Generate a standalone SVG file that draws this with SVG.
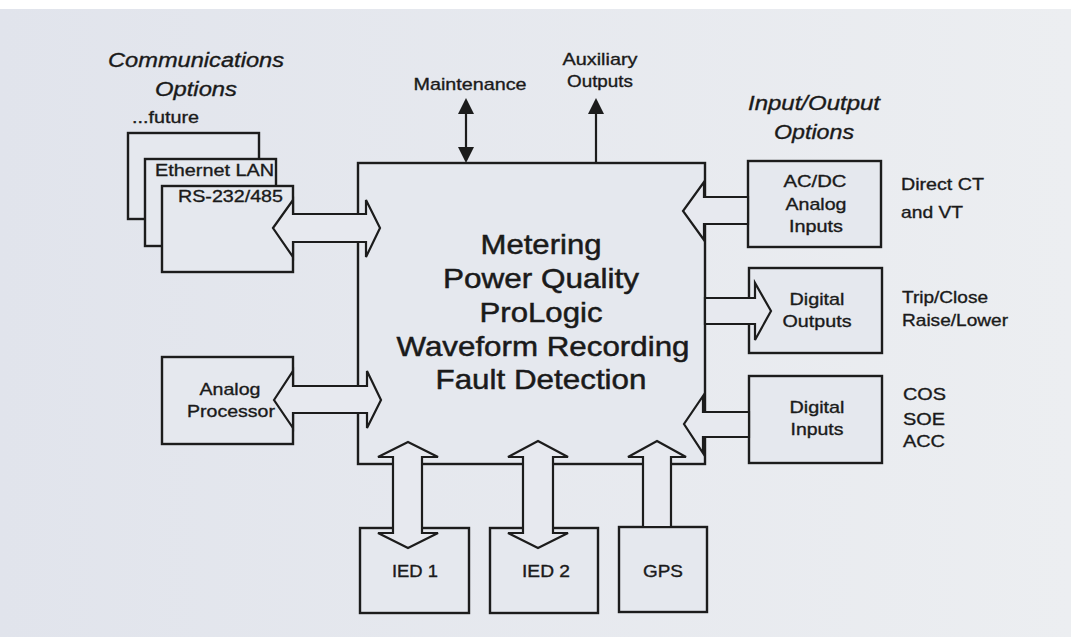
<svg xmlns="http://www.w3.org/2000/svg" width="1071" height="637" viewBox="0 0 1071 637">
  <defs>
    <linearGradient id="bg" x1="0" y1="0" x2="1" y2="0">
      <stop offset="0" stop-color="#e1e4ec"/>
      <stop offset="1" stop-color="#eceef1"/>
    </linearGradient>
    <marker id="ah" viewBox="0 0 16 16" refX="13" refY="8" markerWidth="16" markerHeight="16" markerUnits="userSpaceOnUse" orient="auto-start-reverse">
      <path d="M0,0 L16,8 L0,16 z" fill="#1c1c1c"/>
    </marker>
    <style>
      .box { fill: #e5e8ee; stroke: #1c1c1c; stroke-width: 2.4; }
      .arr { fill: #e7e9ef; stroke: #1c1c1c; stroke-width: 2.2; stroke-linejoin: miter; }
      .ln { fill: none; stroke: #1c1c1c; stroke-width: 2.2; }
      text { font-family: "Liberation Sans", Arial, sans-serif; fill: #1a1a1a; stroke: #1a1a1a; stroke-width: 0.35; font-size: 17px; }
      .c { text-anchor: middle; }
      .it { font-style: italic; font-size: 20px; }
      .big { font-size: 28px; text-anchor: middle; stroke-width: 0.5; }
    </style>
  </defs>

  <rect x="0" y="0" width="1071" height="637" fill="url(#bg)"/>
  <rect x="0" y="0" width="1071" height="9" fill="#ffffff"/>

  <!-- labels -->
  <g id="comm-options-label">
    <text class="it c" x="196" y="67" textLength="176" lengthAdjust="spacingAndGlyphs">Communications</text>
    <text class="it c" x="196" y="96" textLength="82" lengthAdjust="spacingAndGlyphs">Options</text>
  </g>
  <g id="io-options-label">
    <text class="it c" x="814" y="110" textLength="132" lengthAdjust="spacingAndGlyphs">Input/Output</text>
    <text class="it c" x="814" y="139" textLength="80" lengthAdjust="spacingAndGlyphs">Options</text>
  </g>
  <g id="maintenance-label">
    <text class="c" x="470" y="90" textLength="113" lengthAdjust="spacingAndGlyphs">Maintenance</text>
  </g>
  <g id="aux-label">
    <text class="c" x="600" y="65" textLength="75" lengthAdjust="spacingAndGlyphs">Auxiliary</text>
    <text class="c" x="600" y="87" textLength="66" lengthAdjust="spacingAndGlyphs">Outputs</text>
  </g>

  <!-- communication boxes -->
  <g id="future">
    <rect class="box" x="128" y="133" width="131" height="86"/>
    <text x="132" y="123" textLength="67" lengthAdjust="spacingAndGlyphs">...future</text>
  </g>
  <g id="ethernet">
    <rect class="box" x="145" y="159" width="131" height="87"/>
    <text x="155" y="176" textLength="119" lengthAdjust="spacingAndGlyphs">Ethernet LAN</text>
  </g>
  <g id="rs232">
    <rect class="box" x="162" y="186" width="131" height="86"/>
    <text x="178" y="202" textLength="105" lengthAdjust="spacingAndGlyphs">RS-232/485</text>
  </g>

  <g id="analog-processor">
    <rect class="box" x="162" y="357" width="131" height="87"/>
    <text class="c" x="230" y="395" textLength="61" lengthAdjust="spacingAndGlyphs">Analog</text>
    <text class="c" x="231" y="417" textLength="88" lengthAdjust="spacingAndGlyphs">Processor</text>
  </g>

  <g id="main">
    <rect class="box" x="358" y="163" width="347" height="301"/>
    <text class="big" x="541" y="254" textLength="121" lengthAdjust="spacingAndGlyphs">Metering</text>
    <text class="big" x="541" y="288" textLength="196" lengthAdjust="spacingAndGlyphs">Power Quality</text>
    <text class="big" x="541" y="322" textLength="123" lengthAdjust="spacingAndGlyphs">ProLogic</text>
    <text class="big" x="543" y="356" textLength="293" lengthAdjust="spacingAndGlyphs">Waveform Recording</text>
    <text class="big" x="541" y="389" textLength="211" lengthAdjust="spacingAndGlyphs">Fault Detection</text>
  </g>

  <g id="acdc-inputs">
    <rect class="box" x="748" y="161" width="133" height="86"/>
    <text class="c" x="815" y="187" textLength="63" lengthAdjust="spacingAndGlyphs">AC/DC</text>
    <text class="c" x="816" y="210" textLength="61" lengthAdjust="spacingAndGlyphs">Analog</text>
    <text class="c" x="816" y="232" textLength="54" lengthAdjust="spacingAndGlyphs">Inputs</text>
    <text x="901" y="190" textLength="83" lengthAdjust="spacingAndGlyphs">Direct CT</text>
    <text x="901" y="218" textLength="62" lengthAdjust="spacingAndGlyphs">and VT</text>
  </g>

  <g id="digital-outputs">
    <rect class="box" x="749" y="268" width="133" height="85"/>
    <text class="c" x="817" y="305" textLength="55" lengthAdjust="spacingAndGlyphs">Digital</text>
    <text class="c" x="817" y="327" textLength="69" lengthAdjust="spacingAndGlyphs">Outputs</text>
    <text x="902" y="303" textLength="86" lengthAdjust="spacingAndGlyphs">Trip/Close</text>
    <text x="902" y="326" textLength="106" lengthAdjust="spacingAndGlyphs">Raise/Lower</text>
  </g>

  <g id="digital-inputs">
    <rect class="box" x="749" y="376" width="133" height="87"/>
    <text class="c" x="817" y="413" textLength="55" lengthAdjust="spacingAndGlyphs">Digital</text>
    <text class="c" x="817" y="435" textLength="53" lengthAdjust="spacingAndGlyphs">Inputs</text>
    <text x="903" y="400" textLength="43" lengthAdjust="spacingAndGlyphs">COS</text>
    <text x="903" y="425" textLength="42" lengthAdjust="spacingAndGlyphs">SOE</text>
    <text x="903" y="447" textLength="42" lengthAdjust="spacingAndGlyphs">ACC</text>
  </g>

  <g id="ied1">
    <rect class="box" x="360" y="528" width="109" height="85"/>
    <text class="c" x="415" y="577" textLength="46" lengthAdjust="spacingAndGlyphs">IED 1</text>
  </g>
  <g id="ied2">
    <rect class="box" x="490" y="528" width="108" height="85"/>
    <text class="c" x="546" y="577" textLength="48" lengthAdjust="spacingAndGlyphs">IED 2</text>
  </g>
  <g id="gps">
    <rect class="box" x="619" y="527" width="88" height="85"/>
    <text class="c" x="663" y="577" textLength="40" lengthAdjust="spacingAndGlyphs">GPS</text>
  </g>

  <!-- connectors -->
  <g id="connectors">
    <line class="ln" x1="466" y1="160" x2="466" y2="101" marker-start="url(#ah)" marker-end="url(#ah)"/>
    <line class="ln" x1="596" y1="163" x2="596" y2="101" marker-end="url(#ah)"/>

    <polygon class="arr" points="273,228 293,200 293,214 366,214 366,200 380,228 366,257 366,242 293,242 293,257"/>
    <polygon class="arr" points="274,400 293,371 293,386 367,386 367,371 381,400 367,428 367,413 293,413 293,428"/>

    <polygon class="arr" points="748,197 704,197 704,182 683,211 704,240 704,224 748,224"/>
    <polygon class="arr" points="705,298 755,298 755,283 771,311 755,340 755,324 705,324"/>
    <polygon class="arr" points="749,412 703,412 703,396 684,424 703,453 703,437 749,437"/>

    <polygon class="arr" points="408,442 438,457 422,457 422,533 438,533 408,548 378,533 393,533 393,457 378,457"/>
    <polygon class="arr" points="538,441 568,457 553,457 553,533 568,533 538,548 508,533 523,533 523,457 508,457"/>
    <polygon class="arr" points="657,441 686,457 671,457 671,527 643,527 643,457 628,457"/>
  </g>
</svg>
